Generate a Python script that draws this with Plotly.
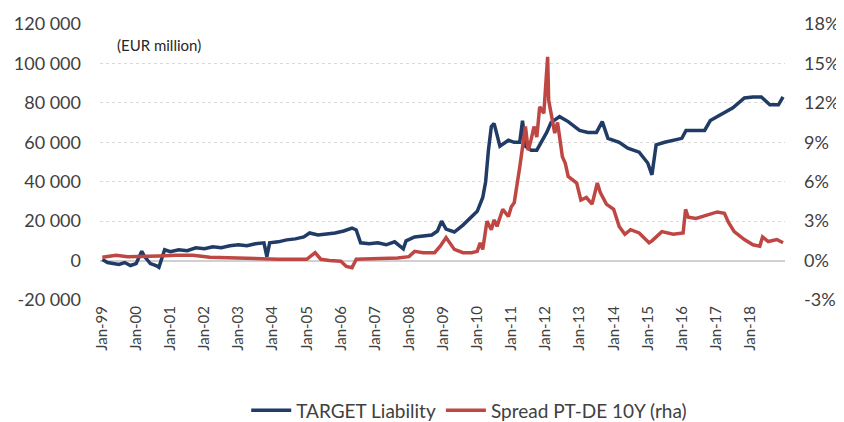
import plotly.graph_objects as go

# TARGET Liability (EUR million)
target_dates = [
    "1999-01-04", "1999-03-01", "1999-05-01", "1999-07-01", "1999-09-01", "1999-11-01",
    "2000-01-01", "2000-03-01", "2000-04-01", "2000-06-01", "2000-08-01", "2000-09-01",
    "2000-10-01", "2000-11-01", "2001-01-01", "2001-04-01", "2001-07-01", "2001-10-01",
    "2002-01-01", "2002-04-01", "2002-07-01", "2002-10-01", "2003-01-01", "2003-04-01",
    "2003-07-01", "2003-10-01", "2003-11-01", "2003-12-01", "2004-03-01", "2004-06-01",
    "2004-09-01", "2004-12-01", "2005-02-01", "2005-05-01", "2005-08-01", "2005-11-01",
    "2006-02-01", "2006-05-01", "2006-06-15", "2006-08-01", "2006-11-01", "2007-02-01",
    "2007-05-01", "2007-08-01", "2007-11-01", "2007-12-01", "2008-03-01", "2008-06-01",
    "2008-09-01", "2008-11-01", "2008-12-15", "2009-02-01", "2009-05-01", "2009-08-01",
    "2009-11-01", "2010-01-01", "2010-03-01", "2010-04-01", "2010-05-01", "2010-06-01",
    "2010-07-01", "2010-09-01", "2010-12-01", "2011-02-01", "2011-04-01", "2011-05-01",
    "2011-06-01", "2011-08-01", "2011-10-01", "2011-12-01", "2012-01-15", "2012-03-01",
    "2012-06-01", "2012-09-01", "2013-01-01", "2013-04-01", "2013-07-01", "2013-09-01",
    "2013-11-01", "2014-03-01", "2014-06-01", "2014-10-01", "2015-01-01", "2015-02-15",
    "2015-04-01", "2015-07-01", "2016-01-01", "2016-02-15", "2016-09-01", "2016-11-01",
    "2017-03-01", "2017-07-01", "2017-11-01", "2018-02-01", "2018-05-01", "2018-08-01",
    "2018-11-01", "2018-12-20",
]
target_values = [
    500, -1000, -1500, -2000, -1000, -2500,
    -1500, 4700, 2000, -1500, -2500, -3400,
    1000, 5500, 4500, 5500, 5000, 6500,
    6000, 7000, 6500, 7500, 8000, 7500,
    8500, 9000, 2000, 9000, 9500, 10500,
    11000, 12000, 14000, 13000, 13500, 14000,
    15000, 16500, 15500, 9000, 8500, 9000,
    8000, 9500, 6000, 10000, 12000, 12500,
    13000, 15000, 20000, 16000, 14500, 18000,
    22000, 25000, 32000, 40000, 56000, 68000,
    69500, 58000, 61000, 60000, 60000, 71000,
    58000, 56000, 56000, 61000, 65000, 70000,
    73000, 70500, 66000, 65000, 65000, 70500,
    62000, 60000, 57000, 55000, 49500, 43500,
    58700, 60000, 62000, 66000, 66000, 71000,
    74000, 77500, 82500, 83000, 83000, 79000,
    79000, 83000,
]

# Spread PT-DE 10Y (%), right-hand axis
spread_dates = [
    "1999-01-04", "1999-06-01", "1999-10-01", "2000-03-01", "2000-09-01", "2001-03-01",
    "2001-09-01", "2002-03-01", "2002-09-01", "2003-03-01", "2003-09-01", "2004-03-01",
    "2004-09-01", "2005-01-01", "2005-04-01", "2005-06-01", "2005-09-01", "2006-01-01",
    "2006-03-01", "2006-05-01", "2006-06-15", "2006-10-01", "2007-03-01", "2007-09-01",
    "2008-01-01", "2008-03-01", "2008-06-01", "2008-10-01", "2008-12-01", "2009-02-01",
    "2009-03-01", "2009-05-01", "2009-08-01", "2009-11-01", "2010-01-01", "2010-02-01",
    "2010-03-01", "2010-04-15", "2010-06-01", "2010-07-01", "2010-08-01", "2010-10-01",
    "2010-12-01", "2011-01-01", "2011-02-01", "2011-03-01", "2011-04-01", "2011-06-01",
    "2011-07-01", "2011-08-01", "2011-09-01", "2011-10-01", "2011-11-01", "2011-12-15",
    "2012-01-25", "2012-02-05", "2012-02-20", "2012-03-10", "2012-04-10", "2012-05-10",
    "2012-07-01", "2012-08-01", "2012-09-01", "2012-12-01", "2013-01-15", "2013-03-15",
    "2013-05-15", "2013-07-10", "2013-08-10", "2013-10-15", "2014-01-01", "2014-03-01",
    "2014-05-01", "2014-07-01", "2014-10-01", "2015-01-15", "2015-02-15", "2015-06-01",
    "2015-10-01", "2016-01-15", "2016-02-10", "2016-03-10", "2016-06-01", "2016-10-01",
    "2017-01-15", "2017-04-01", "2017-05-15", "2017-07-15", "2017-11-01", "2018-02-01",
    "2018-04-15", "2018-05-15", "2018-07-15", "2018-10-15", "2018-12-20",
]
spread_values = [
    0.25, 0.4, 0.3, 0.3, 0.35, 0.4,
    0.4, 0.25, 0.2, 0.15, 0.15, 0.1,
    0.1, 0.1, 0.6, 0.1, 0.0, -0.05,
    -0.45, -0.55, 0.1, 0.1, 0.15, 0.2,
    0.3, 0.7, 0.6, 0.6, 1.1, 1.75,
    1.5, 0.85, 0.6, 0.6, 0.7, 1.35,
    0.85, 3.0, 2.35, 3.1, 2.6, 3.9,
    3.35, 4.1, 4.4, 5.9, 7.1, 10.2,
    8.4, 9.2, 10.2, 9.4, 11.7, 11.2,
    15.5, 12.2, 11.5, 10.9, 9.7, 10.5,
    7.9, 7.4, 6.4, 5.9, 4.6, 4.8,
    4.3, 5.9, 5.2, 4.3, 3.9, 2.6,
    2.0, 2.35, 2.1, 1.35, 1.5, 2.2,
    2.0, 2.1, 3.9, 3.3, 3.2, 3.5,
    3.7, 3.6, 2.9, 2.2, 1.6, 1.2,
    1.1, 1.8, 1.45, 1.6, 1.35,
]

x_tick_vals = ["%d-01-01" % y for y in range(1999, 2019)]
x_tick_text = ["Jan-99", "Jan-00", "Jan-01", "Jan-02", "Jan-03", "Jan-04", "Jan-05",
               "Jan-06", "Jan-07", "Jan-08", "Jan-09", "Jan-10", "Jan-11", "Jan-12",
               "Jan-13", "Jan-14", "Jan-15", "Jan-16", "Jan-17", "Jan-18"]
left_ticks = [-20000, 0, 20000, 40000, 60000, 80000, 100000, 120000]
left_tick_text = ["-20 000", "0", "20 000", "40 000", "60 000", "80 000", "100 000", "120 000"]
right_ticks = [-3, 0, 3, 6, 9, 12, 15, 18]
right_tick_text = ["-3%", "0%", "3%", "6%", "9%", "12%", "15%", "18%"]

BLUE = "#1F3B66"
RED = "#BF4743"
FONT = "Lato, 'Open Sans', Arial, sans-serif"

fig = go.Figure()
fig.add_trace(go.Scatter(
    x=target_dates, y=target_values, name="TARGET Liability",
    mode="lines", line=dict(color=BLUE, width=3.5), yaxis="y",
))
fig.add_trace(go.Scatter(
    x=spread_dates, y=spread_values, name="Spread PT-DE 10Y (rha)",
    mode="lines", line=dict(color=RED, width=3.5), yaxis="y2",
))

fig.update_layout(
    width=844, height=422,
    margin=dict(l=92, r=67, t=16, b=130, autoexpand=False),
    paper_bgcolor="white", plot_bgcolor="white",
    font=dict(family=FONT, size=16, color="#404040"),
    showlegend=True,
    legend=dict(orientation="h", x=0.539, xanchor="center", y=-0.40, yanchor="middle",
                font=dict(size=19, color="#404040"), itemwidth=40,
                traceorder="normal"),
    xaxis=dict(
        type="date", range=["1998-12-10", "2019-01-10"], automargin=False,
        tickvals=x_tick_vals, ticktext=x_tick_text,
        tickangle=-90, tickfont=dict(size=15), ticklabelstandoff=2,
        showgrid=False, showline=False, ticks="", zeroline=False,
    ),
    yaxis=dict(
        range=[-20000, 120000], tickvals=left_ticks, ticktext=left_tick_text,
        automargin=False,
        showgrid=True, gridcolor="#D9D9D9", griddash="dot", gridwidth=1,
        zeroline=True, zerolinecolor="#D0D0D0", zerolinewidth=1.5,
        showline=False, ticks="", tickfont=dict(size=18), ticklabelstandoff=18,
    ),
    yaxis2=dict(
        range=[-3, 18], tickvals=right_ticks, ticktext=right_tick_text,
        automargin=False,
        overlaying="y", side="right", showgrid=False, zeroline=False,
        showline=False, ticks="", tickfont=dict(size=18), ticklabelstandoff=18,
    ),
    annotations=[dict(
        text="(EUR million)", xref="paper", yref="paper", x=0.022, y=0.924,
        xanchor="left", yanchor="middle", showarrow=False,
        font=dict(size=15, color="#262626"),
    )],
)

fig.write_html("out.html")
